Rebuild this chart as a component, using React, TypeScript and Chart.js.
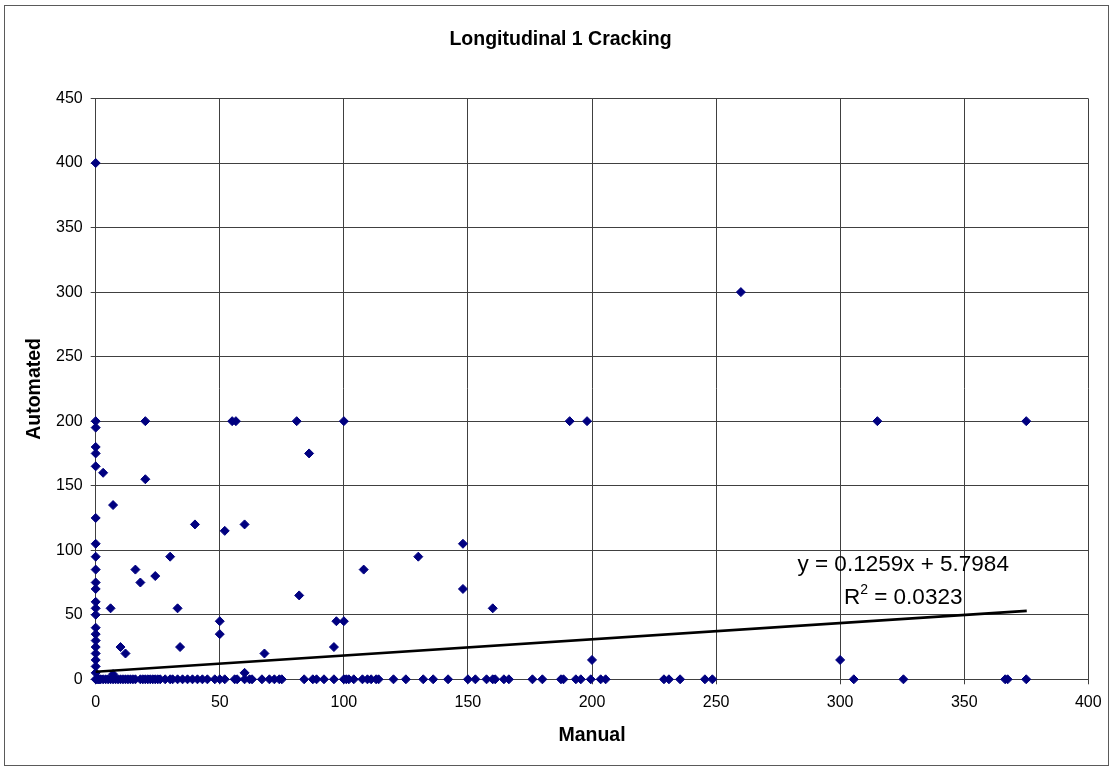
import React, { useEffect, useRef } from "react";
import { Chart, registerables } from "chart.js";

Chart.register(...registerables);

const TITLE = "Longitudinal 1 Cracking";
const X_TITLE = "Manual";
const Y_TITLE = "Automated";
const X_TICKS = [0, 50, 100, 150, 200, 250, 300, 350, 400];
const Y_TICKS = [0, 50, 100, 150, 200, 250, 300, 350, 400, 450];

// Points with Automated > 0
const manualNZ = [
  0, 0, 0, 0, 0, 0, 3, 20, 20, 7, 0, 40, 52, 60, 0, 0, 30, 0, 16, 24, 18, 0, 0, 0, 0, 0, 6, 33, 82,
  50, 50, 0, 0, 0, 0, 0, 0, 0, 0, 10, 12, 34, 68, 60, 7, 55, 56.5, 81, 100, 86, 108, 130, 148, 148,
  160, 97, 100, 96, 191, 198, 200, 260, 315, 375, 300,
];
const automatedNZ = [
  400, 200, 195, 180, 175, 165, 160, 200, 155, 135, 125, 120, 115, 120, 105, 95, 95, 85, 85, 80, 75,
  75, 70, 60, 55, 50, 55, 55, 65, 45, 35, 40, 35, 30, 25, 20, 15, 10, 5, 25, 20, 25, 20, 5, 4, 200,
  200, 200, 200, 175, 85, 95, 105, 70, 55, 45, 45, 25, 200, 200, 15, 300, 200, 200, 15,
];
// Points with Automated = 0
const manualZero = [
  0, 0.5, 1, 1.5, 2, 3, 4, 5, 6, 7, 8, 9, 10, 11, 12, 13, 14, 15, 16, 18, 19, 20, 21, 22, 23, 24, 25,
  26, 28, 30, 31, 33, 35, 37, 39, 41, 43, 45, 48, 50, 52, 56, 57, 60, 62, 63, 67, 70, 72, 74, 75,
  84, 87.5, 89, 92, 96, 100, 101, 102, 104, 107.5, 109.5, 111, 113, 114, 120, 125, 132, 136, 142,
  150, 153, 157.5, 160, 161, 164.5, 166.5, 176, 180, 187.5, 188.5, 193.5, 195.5, 199.5, 203.5, 205.5,
  229, 231, 235.5, 245.5, 248.5, 305.5, 325.5, 366.5, 367.5, 375,
];

const SLOPE = 0.1259;
const INTERCEPT = 5.7984;
const R2 = "0.0323";
const TREND_X = [0, 375.2];

export default function App() {
  const ref = useRef<HTMLCanvasElement>(null);

  useEffect(() => {
    document.body.style.margin = "0";
    const canvas = ref.current!;
    const FONT = "'Liberation Sans', Arial, Helvetica, sans-serif";

    const points = [
      ...manualNZ.map((x, i) => ({ x, y: automatedNZ[i] })),
      ...manualZero.map((x) => ({ x, y: 0 })),
    ];
    const trend = TREND_X.map((x) => ({ x, y: SLOPE * x + INTERCEPT }));

    const frame = {
      id: "frame",
      beforeDraw(chart: any) {
        const ctx = chart.ctx;
        ctx.save();
        ctx.fillStyle = "#ffffff";
        ctx.fillRect(0, 0, chart.width, chart.height);
        ctx.strokeStyle = "#5a5a5a";
        ctx.lineWidth = 1;
        ctx.strokeRect(4.5, 5.5, 1104, 760);
        ctx.fillStyle = "#000";
        ctx.font = `bold 19.5px ${FONT}`;
        ctx.textAlign = "center";
        ctx.textBaseline = "middle";
        ctx.fillText(TITLE, 560.5, 40);
        ctx.restore();
      },
    };

    const equation = {
      id: "equation",
      afterDraw(chart: any) {
        const ctx = chart.ctx;
        const xs = chart.scales.x;
        const ys = chart.scales.y;
        const sign = INTERCEPT >= 0 ? "+" : "-";
        const line1 = `y = ${SLOPE}x ${sign} ${Math.abs(INTERCEPT)}`;
        ctx.save();
        ctx.fillStyle = "#000";
        ctx.font = `22.5px ${FONT}`;
        ctx.textBaseline = "middle";
        ctx.textAlign = "center";
        const cx = xs.getPixelForValue(325.4);
        ctx.fillText(line1, cx, ys.getPixelForValue(88.5));
        const y2 = ys.getPixelForValue(63);
        ctx.textAlign = "left";
        const wR = ctx.measureText("R").width;
        const rest = ` = ${R2}`;
        const wRest = ctx.measureText(rest).width;
        ctx.font = `14px ${FONT}`;
        const wSup = ctx.measureText("2").width;
        const total = wR + wSup + wRest;
        const x0 = cx - total / 2;
        ctx.font = `22.5px ${FONT}`;
        ctx.fillText("R", x0, y2);
        ctx.font = `14px ${FONT}`;
        ctx.fillText("2", x0 + wR, y2 - 8);
        ctx.font = `22.5px ${FONT}`;
        ctx.fillText(rest, x0 + wR + wSup, y2);
        ctx.restore();
      },
    };

    const chart = new Chart(canvas, {
      type: "scatter",
      data: {
        datasets: [
          {
            label: "Trend",
            data: trend,
            showLine: true,
            borderColor: "#000000",
            borderWidth: 2.6,
            pointRadius: 0,
            order: 0,
            clip: false as any,
          },
          {
            label: "Data",
            data: points,
            pointStyle: "rectRot",
            pointRadius: 4.5,
            backgroundColor: "#000080",
            borderColor: "#000080",
            borderWidth: 1,
            order: 1,
            clip: false as any,
          },
        ],
      },
      options: {
        responsive: false,
        animation: false,
        layout: { padding: { left: 0, right: 24.7, top: 98.5, bottom: 0 } },
        plugins: {
          legend: { display: false },
          tooltip: { enabled: false },
          title: { display: false },
        },
        scales: {
          x: {
            type: "linear",
            min: 0,
            max: 400,
            afterBuildTicks: (s: any) => {
              s.ticks = X_TICKS.map((v) => ({ value: v }));
            },
            afterFit: (s: any) => {
              s.height = 87.7;
            },
            ticks: {
              color: "#000",
              font: { family: FONT, size: 16, lineHeight: 1.2 },
              padding: 9,
              maxRotation: 0,
              autoSkip: false,
            },
            grid: { color: "#404040", lineWidth: 1, tickLength: 5, drawTicks: true },
            border: { display: true, color: "#404040" },
            title: {
              display: true,
              text: X_TITLE,
              color: "#000",
              font: { family: FONT, size: 19.5, weight: "bold", lineHeight: 1.2 },
              padding: { top: 0, bottom: 19.8 },
            },
          },
          y: {
            type: "linear",
            min: 0,
            max: 450,
            afterBuildTicks: (s: any) => {
              s.ticks = Y_TICKS.map((v) => ({ value: v }));
            },
            afterFit: (s: any) => {
              s.width = 95.7;
            },
            ticks: {
              color: "#000",
              font: { family: FONT, size: 16, lineHeight: 1.2 },
              padding: 8,
              autoSkip: false,
            },
            grid: { color: "#404040", lineWidth: 1, tickLength: 5, drawTicks: true },
            border: { display: true, color: "#404040" },
            title: {
              display: true,
              text: Y_TITLE,
              color: "#000",
              font: { family: FONT, size: 19.5, weight: "bold", lineHeight: 1.2 },
              padding: { top: 23.3, bottom: 0 },
            },
          },
        },
      },
      plugins: [frame, equation],
    });

    return () => chart.destroy();
  }, []);

  return (
    <div style={{ position: "absolute", left: 0, top: 0, width: 1113, height: 767 }}>
      <canvas ref={ref} width={1113} height={767} />
    </div>
  );
}
